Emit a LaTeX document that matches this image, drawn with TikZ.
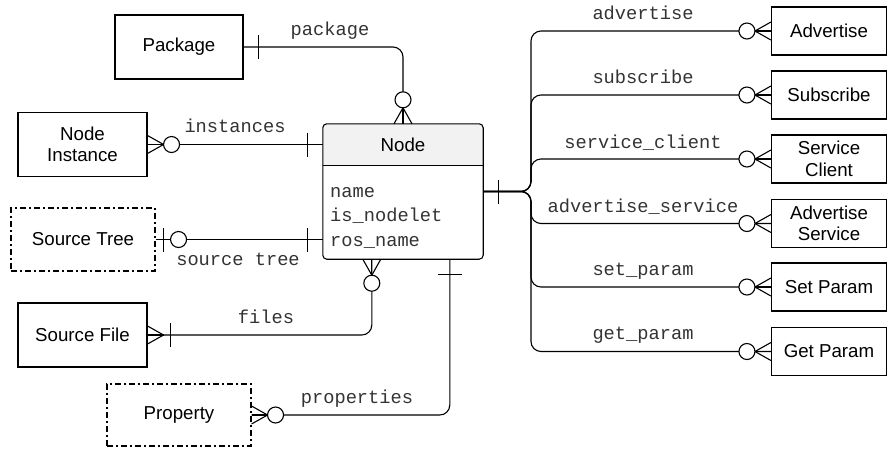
\documentclass[tikz,border=0pt]{standalone}
\usepackage{fontspec}
\setmainfont{Liberation Sans}
\setmonofont{Liberation Mono}
\usetikzlibrary{calc}
\definecolor{headgray}{HTML}{F2F2F2}
\definecolor{labelgray}{HTML}{333333}
\tikzset{
  ent/.style={draw, line width=1.1pt, fill=white, align=center, inner sep=2pt,
    font=\fontsize{18.7}{21.5}\selectfont},
  weak/.style={ent, dash pattern=on 6pt off 3pt on 2pt off 3pt},
  lbl/.style={anchor=base, inner sep=0pt, text=labelgray, font=\ttfamily\fontsize{18.7}{21}\selectfont},
  attr/.style={anchor=base west, inner sep=0pt, text=labelgray, font=\ttfamily\fontsize{18.7}{21}\selectfont},
  conn/.style={line width=1.1pt, rounded corners=10pt},
  mk/.style={line width=1.1pt},
  crowcircle/.pic={
    \draw[mk] (0pt,9pt) -- (16pt,0pt) -- (0pt,-9pt);
    \draw[mk] (0pt,0pt) -- (16pt,0pt);
    \draw[mk, fill=white] (24pt,0pt) circle (8pt);
  },
  crowbar/.pic={
    \draw[mk] (0pt,9pt) -- (16pt,0pt) -- (0pt,-9pt);
    \draw[mk] (0pt,0pt) -- (16pt,0pt);
    \draw[mk] (23pt,-12pt) -- (23pt,12pt);
  },
  onebar/.pic={
    \draw[mk] (15pt,-12pt) -- (15pt,12pt);
  },
  barcircle/.pic={
    \draw[mk] (8pt,-12pt) -- (8pt,12pt);
    \draw[mk, fill=white] (23pt,0pt) circle (8pt);
  },
}
\begin{document}
\begin{tikzpicture}[x=1pt, y=-1pt]
\useasboundingbox (0,0) rectangle (887,448);

% central entity
\node[draw=none, minimum width=160pt, minimum height=135pt, inner sep=0pt] (node) at (403,191.5) {};
\coordinate (hl) at ($(node.north west)+(0,42)$);
\coordinate (hr) at ($(node.north east)+(0,42)$);
\fill[headgray] (hl) [rounded corners=4pt] -- (node.north west) -- (node.north east) [sharp corners] -- (hr) -- cycle;
\draw[line width=1.1pt] (hl) -- (hr);
\draw[line width=1.1pt, rounded corners=4pt] (node.north west) rectangle (node.south east);
\node[inner sep=0pt, font=\fontsize{18.7}{21.5}\selectfont] (title) at (403,145) {Node};
\node[attr] (a1) at (330,197) {name};
\node[attr] (a2) at (330,221.5) {is\_nodelet};
\node[attr] (a3) at (330,246) {ros\_name};

% left / bottom entities
\node[ent, minimum width=128pt, minimum height=64pt] (pkg) at (179,47) {Package};
\node[ent, minimum width=129pt, minimum height=64pt] (ni) at (82.5,144.5) {Node\\Instance};
\node[weak, minimum width=144pt, minimum height=63pt] (st) at (83,239.5) {Source Tree};
\node[ent, minimum width=129pt, minimum height=64pt] (sf) at (82.5,335) {Source File};
\node[weak, minimum width=144pt, minimum height=62pt] (prop) at (179,415) {Property};

% right entities
\node[ent, minimum width=115pt, minimum height=48pt] (adv) at (829,31) {Advertise};
\node[ent, minimum width=115pt, minimum height=48pt] (sub) at (829,95) {Subscribe};
\node[ent, minimum width=115pt, minimum height=48pt] (sc) at (829,159) {Service\\Client};
\node[ent, minimum width=115pt, minimum height=48pt] (as) at (829,223.5) {Advertise\\Service};
\node[ent, minimum width=115pt, minimum height=48pt] (sp) at (829,287) {Set Param};
\node[ent, minimum width=115pt, minimum height=48pt] (gp) at (829,351.5) {Get Param};

% helper coordinates
\coordinate (trunk) at (531,0);
\coordinate (nf) at ($(node.south west)+(49,0)$);
\coordinate (np) at ($(node.south west)+(127,0)$);

% connectors
\draw[conn] (pkg.east) -| (node.north);
\draw[conn] (ni.east) -- (ni.east -| node.west);
\draw[conn] (st.east) -- (st.east -| node.west);
\draw[conn] (nf) |- (sf.east);
\draw[conn] (np) |- (prop.east);
\foreach \t in {adv,sub,sc,as,sp,gp}{
  \draw[conn] (node.east) -- (node.east -| trunk) |- (\t.west);
}

% markers
\pic at (pkg.east) {onebar};
\pic[rotate=90] at (node.north) {crowcircle};
\pic[rotate=180] at (node.west |- ni.east) {onebar};
\pic at (ni.east) {crowcircle};
\pic[rotate=180] at (node.west |- st.east) {onebar};
\pic at (st.east) {barcircle};
\pic[rotate=-90] at (nf) {crowcircle};
\pic at (sf.east) {crowbar};
\pic[rotate=-90] at (np) {onebar};
\pic at (prop.east) {crowcircle};
\pic at (node.east) {onebar};
\foreach \t in {adv,sub,sc,as,sp,gp}{
  \pic[rotate=180] at (\t.west) {crowcircle};
}

% labels
\node[lbl] (lpkg) at (330,35) {package};
\node[lbl] (lni) at (235,132) {instances};
\node[lbl] (lst) at (238,265) {source tree};
\node[lbl] (lsf) at (266,323) {files};
\node[lbl] (lprop) at (357,403) {properties};
\node[lbl] (ladv) at (643,19) {advertise};
\node[lbl] (lsub) at (643,83) {subscribe};
\node[lbl] (lsc) at (643,148) {service\_client};
\node[lbl] (las) at (643,212) {advertise\_service};
\node[lbl] (lsp) at (643,275) {set\_param};
\node[lbl] (lgp) at (643,339) {get\_param};
\end{tikzpicture}
\end{document}
